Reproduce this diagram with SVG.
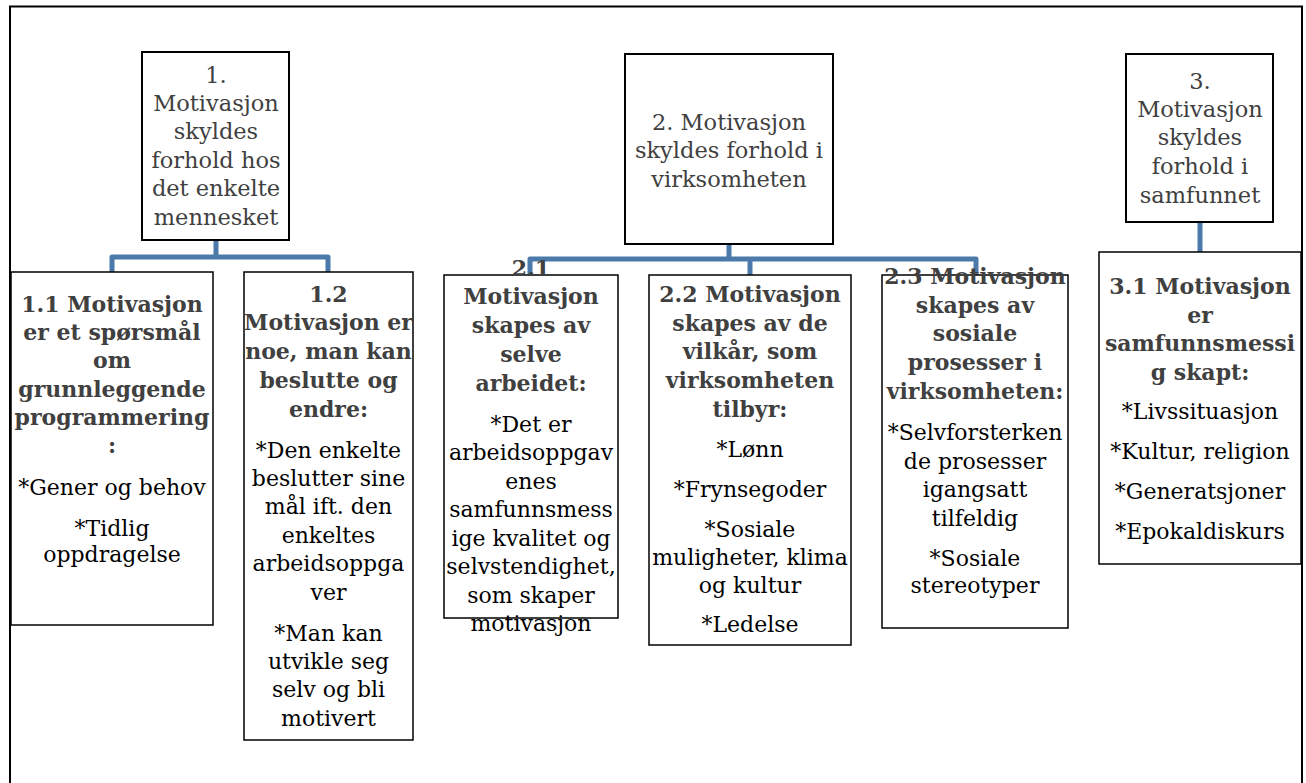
<svg xmlns="http://www.w3.org/2000/svg" width="1306" height="783" viewBox="0 0 1306 783">
<style>
.box{fill:#fff;stroke:#000;stroke-width:2}
.cbox{fill:#fff;stroke:#000;stroke-width:1.5}
.conn{fill:none;stroke:#4a79aa;stroke-width:5;stroke-linejoin:round;stroke-linecap:butt}
text{font-family:"DejaVu Serif","Liberation Serif",serif;text-anchor:middle}
.t{font-size:22.5px;fill:#404040}
.h{font-size:22px;font-weight:bold;fill:#404040}
.b{font-size:22px;fill:#000}
</style>
<rect x="0" y="0" width="1306" height="783" fill="#fff"/>
<path d="M10,790 V6.5 H1302 V790" fill="none" stroke="#000" stroke-width="2"/>

<g id="connectors">
<path class="conn" d="M216,240 V257 M112,274 V257 H328 V274"/>
<path class="conn" d="M729,244 V259 M530,274 V259 H976 V276 M750,259 V276"/>
<path class="conn" d="M1200,222 V252"/>
</g>

<g id="n1">
<rect class="box" x="142" y="52" width="147" height="188"/>
<text class="t" x="216" y="83">1.</text>
<text class="t" x="216" y="111">Motivasjon</text>
<text class="t" x="216" y="139">skyldes</text>
<text class="t" x="216" y="168">forhold hos</text>
<text class="t" x="216" y="196">det enkelte</text>
<text class="t" x="216" y="225">mennesket</text>
</g>

<g id="n2">
<rect class="box" x="625" y="54" width="208" height="190"/>
<text class="t" x="729" y="130">2. Motivasjon</text>
<text class="t" x="729" y="158">skyldes forhold i</text>
<text class="t" x="729" y="187">virksomheten</text>
</g>

<g id="n3">
<rect class="box" x="1126" y="54" width="147" height="168"/>
<text class="t" x="1200" y="89">3.</text>
<text class="t" x="1200" y="117">Motivasjon</text>
<text class="t" x="1200" y="145">skyldes</text>
<text class="t" x="1200" y="174">forhold i</text>
<text class="t" x="1200" y="203">samfunnet</text>
</g>

<g id="n11">
<rect class="cbox" x="11" y="272" width="202" height="353"/>
<text class="h" x="112" y="312">1.1 Motivasjon</text>
<text class="h" x="112" y="340">er et spørsmål</text>
<text class="h" x="112" y="368">om</text>
<text class="h" x="112" y="397">grunnleggende</text>
<text class="h" x="112" y="425">programmering</text>
<text class="h" x="112" y="453">:</text>
<text class="b" x="112" y="495">*Gener og behov</text>
<text class="b" x="112" y="536">*Tidlig</text>
<text class="b" x="112" y="562">oppdragelse</text>
</g>

<g id="n12">
<rect class="cbox" x="244" y="272" width="169" height="468"/>
<text class="h" x="328.5" y="302">1.2</text>
<text class="h" x="328.5" y="330">Motivasjon er</text>
<text class="h" x="328.5" y="359">noe, man kan</text>
<text class="h" x="328.5" y="388">beslutte og</text>
<text class="h" x="328.5" y="417">endre:</text>
<text class="b" x="328.5" y="458">*Den enkelte</text>
<text class="b" x="328.5" y="486">beslutter sine</text>
<text class="b" x="328.5" y="514">mål ift. den</text>
<text class="b" x="328.5" y="543">enkeltes</text>
<text class="b" x="328.5" y="571">arbeidsoppga</text>
<text class="b" x="328.5" y="600">ver</text>
<text class="b" x="328.5" y="641">*Man kan</text>
<text class="b" x="328.5" y="669">utvikle seg</text>
<text class="b" x="328.5" y="697">selv og bli</text>
<text class="b" x="328.5" y="726">motivert</text>
</g>

<g id="n21">
<rect class="cbox" x="444" y="275" width="174" height="343"/>
<text class="h" x="531" y="276">2.1</text>
<text class="h" x="531" y="304">Motivasjon</text>
<text class="h" x="531" y="333">skapes av</text>
<text class="h" x="531" y="362">selve</text>
<text class="h" x="531" y="391">arbeidet:</text>
<text class="b" x="531" y="432">*Det er</text>
<text class="b" x="531" y="460">arbeidsoppgav</text>
<text class="b" x="531" y="489">enes</text>
<text class="b" x="531" y="517">samfunnsmess</text>
<text class="b" x="531" y="546">ige kvalitet og</text>
<text class="b" x="531" y="574">selvstendighet,</text>
<text class="b" x="531" y="603">som skaper</text>
<text class="b" x="531" y="631">motivasjon</text>
</g>

<g id="n22">
<rect class="cbox" x="649" y="275" width="202" height="370"/>
<text class="h" x="750" y="302">2.2 Motivasjon</text>
<text class="h" x="750" y="331">skapes av de</text>
<text class="h" x="750" y="359">vilkår, som</text>
<text class="h" x="750" y="388">virksomheten</text>
<text class="h" x="750" y="417">tilbyr:</text>
<text class="b" x="750" y="457">*Lønn</text>
<text class="b" x="750" y="497">*Frynsegoder</text>
<text class="b" x="750" y="537">*Sosiale</text>
<text class="b" x="750" y="565">muligheter, klima</text>
<text class="b" x="750" y="593">og kultur</text>
<text class="b" x="750" y="632">*Ledelse</text>
</g>

<g id="n23">
<rect class="cbox" x="882" y="275" width="186" height="353"/>
<text class="h" x="975" y="284">2.3 Motivasjon</text>
<text class="h" x="975" y="313">skapes av</text>
<text class="h" x="975" y="341">sosiale</text>
<text class="h" x="975" y="370">prosesser i</text>
<text class="h" x="975" y="399">virksomheten:</text>
<text class="b" x="975" y="440">*Selvforsterken</text>
<text class="b" x="975" y="469">de prosesser</text>
<text class="b" x="975" y="497">igangsatt</text>
<text class="b" x="975" y="526">tilfeldig</text>
<text class="b" x="975" y="566">*Sosiale</text>
<text class="b" x="975" y="593">stereotyper</text>
</g>

<g id="n31">
<rect class="cbox" x="1099" y="252" width="202" height="312"/>
<text class="h" x="1200" y="294">3.1 Motivasjon</text>
<text class="h" x="1200" y="323">er</text>
<text class="h" x="1200" y="351">samfunnsmessi</text>
<text class="h" x="1200" y="380">g skapt:</text>
<text class="b" x="1200" y="419">*Livssituasjon</text>
<text class="b" x="1200" y="459">*Kultur, religion</text>
<text class="b" x="1200" y="499">*Generatsjoner</text>
<text class="b" x="1200" y="539">*Epokaldiskurs</text>
</g>
</svg>
